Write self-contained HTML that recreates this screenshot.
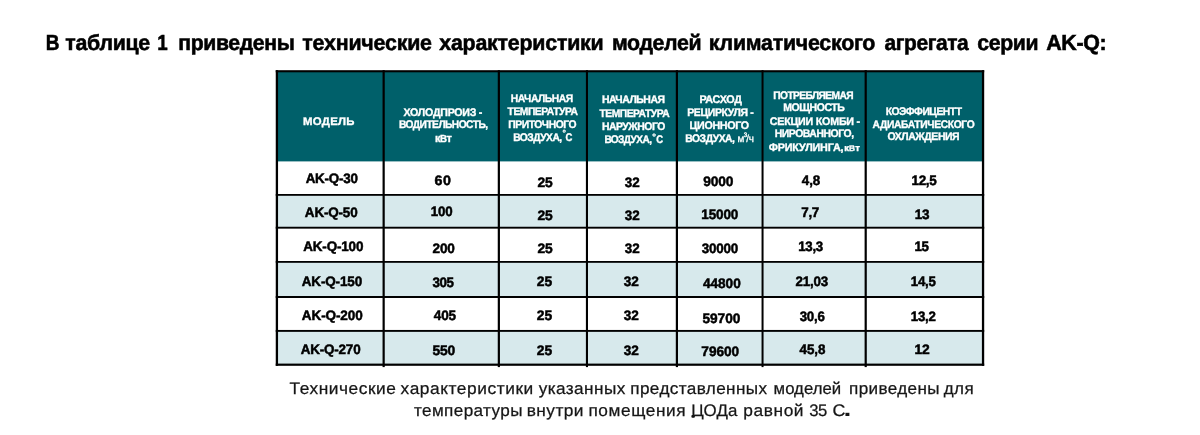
<!DOCTYPE html>
<html lang="ru">
<head>
<meta charset="utf-8">
<title>Таблица 1 — технические характеристики AK-Q</title>
<style>
html,body{margin:0;padding:0;background:#fff}
body{width:1200px;height:435px;position:relative;overflow:hidden}
.t{position:absolute;white-space:nowrap;line-height:1;transform-origin:0 0;display:block;text-rendering:geometricPrecision}
.g{margin:0;padding:0;border:0;font-size:inherit;font-weight:inherit;position:static;display:block}
.title{font-family:'Liberation Sans', sans-serif;font-weight:700;color:#000;-webkit-text-stroke:0.55px #000;}
.head{font-family:'Liberation Sans', sans-serif;font-weight:700;color:#fff;-webkit-text-stroke:0.35px #fff;}
.headsm{font-family:'Liberation Sans', sans-serif;font-weight:700;color:#fff;-webkit-text-stroke:0.35px #fff;}
.deg{font-family:'Liberation Sans', sans-serif;font-weight:700;color:#fff;-webkit-text-stroke:0.25px #fff;}
.m3{font-family:'Liberation Sans', sans-serif;font-weight:400;color:#fff;-webkit-text-stroke:0.3px #fff;}
.data{font-family:'Liberation Sans', sans-serif;font-weight:700;color:#000;-webkit-text-stroke:0.5px #000;}
.dot{font-family:'Liberation Sans', sans-serif;font-weight:700;color:#161616;}
.cap{font-family:'Liberation Sans', sans-serif;font-weight:400;color:#161616;-webkit-text-stroke:0.25px #161616;}
.vb{font-size:88%}sup{font-size:62%;vertical-align:baseline;position:relative;top:-0.8em;line-height:0;margin:0 -0.12em 0 -0.05em}
</style>
</head>
<body>
<!-- table grid -->
<svg class="grid" width="1200" height="435" viewBox="0 0 1200 435" style="position:absolute;left:0;top:0">
<rect x="276.9" y="71.25" width="706.15" height="90.15" fill="#00606a"/>
<rect x="276.9" y="194.9" width="706.15" height="32.80" fill="#d7e9ec"/>
<rect x="276.9" y="261.9" width="706.15" height="35.10" fill="#d7e9ec"/>
<rect x="276.9" y="330.9" width="706.15" height="33.80" fill="#d7e9ec"/>
<rect x="275.75" y="70.20" width="708.45" height="2.1" fill="#000"/>
<rect x="275.75" y="194.00" width="708.45" height="1.8" fill="#000"/>
<rect x="275.75" y="226.75" width="708.45" height="1.9" fill="#000"/>
<rect x="275.75" y="261.00" width="708.45" height="1.8" fill="#000"/>
<rect x="275.75" y="296.00" width="708.45" height="2.0" fill="#000"/>
<rect x="275.75" y="329.95" width="708.45" height="1.9" fill="#000"/>
<rect x="275.75" y="363.60" width="708.45" height="2.2" fill="#000"/>
<rect x="275.75" y="70.2" width="2.3" height="295.60" fill="#000"/>
<rect x="382.55" y="70.2" width="2.2" height="296.90" fill="#000"/>
<rect x="497.75" y="70.2" width="2.2" height="296.90" fill="#000"/>
<rect x="585.90" y="70.2" width="2.1" height="296.90" fill="#000"/>
<rect x="675.80" y="70.2" width="2.2" height="296.90" fill="#000"/>
<rect x="761.55" y="70.2" width="2.0" height="296.90" fill="#000"/>
<rect x="864.60" y="70.2" width="2.2" height="296.90" fill="#000"/>
<rect x="981.90" y="70.2" width="2.3" height="295.60" fill="#000"/>
<rect x="691.4" y="415.0" width="3.5" height="2.8" rx="1" fill="#111"/>
</svg>
<!-- text -->
<h1 class="g ttl">
<span class="t title" style="left:45px;top:32px;font-size:21.80px;transform:translateX(0.75px) scaleX(0.8720)">В</span>
<span class="t title" style="left:65px;top:32px;font-size:21.80px;letter-spacing:-0.287px;transform:translateX(0.26px) scaleX(0.9789)">таблице</span>
<span class="t title" style="left:157px;top:32px;font-size:21.80px;transform:translateX(0.28px) scaleX(0.8600)">1</span>
<span class="t title" style="left:178px;top:32px;font-size:21.80px;letter-spacing:-0.368px;transform:translateX(0.25px) scaleX(0.9722)">приведены</span>
<span class="t title" style="left:302px;top:32px;font-size:21.80px;letter-spacing:-0.202px;transform:translateX(0.31px) scaleX(0.9806)">технические</span>
<span class="t title" style="left:439px;top:32px;font-size:21.80px;letter-spacing:-0.227px;transform:translateX(0.30px) scaleX(0.9804)">характеристики</span>
<span class="t title" style="left:611px;top:32px;font-size:21.80px;letter-spacing:-0.384px;transform:translateX(0.96px) scaleX(0.9779)">моделей</span>
<span class="t title" style="left:708px;top:32px;font-size:21.80px;letter-spacing:-0.248px;transform:translateX(0.85px) scaleX(0.9804)">климатического</span>
<span class="t title" style="left:884px;top:32px;font-size:21.80px;letter-spacing:-0.440px;transform:translateX(0.56px) scaleX(0.9606)">агрегата</span>
<span class="t title" style="left:977px;top:32px;font-size:21.80px;letter-spacing:-0.402px;transform:translateX(0.35px) scaleX(0.9749)">серии</span>
<span class="t title" style="left:1046px;top:32px;font-size:21.80px;letter-spacing:-0.345px;transform:translateX(0.14px) scaleX(0.9836)">AK-Q:</span>
</h1>
<div class="g thead">
<span class="t head" style="left:302px;top:117px;font-size:11.05px;letter-spacing:0.302px;transform:translateX(0.95px) scaleX(1.0298)">МОДЕЛЬ</span>
<span class="t head" style="left:403px;top:108px;font-size:11.05px;letter-spacing:-0.265px;transform:translateX(0.56px) scaleX(0.9621)">ХОЛОДПРОИЗ -</span>
<span class="t head" style="left:398px;top:120px;font-size:11.05px;letter-spacing:-0.557px;transform:translateX(0.96px) scaleX(0.9227)">ВОДИТЕЛЬНОСТЬ,</span>
<span class="t headsm" style="left:435px;top:134px;font-size:11.56px;letter-spacing:-0.518px;transform:translateX(0.05px) scaleX(0.9556)">к<span class="vb">В</span>т</span>
<span class="t head" style="left:510px;top:94px;font-size:11.05px;letter-spacing:-0.492px;transform:translateX(0.87px) scaleX(0.9352)">НАЧАЛЬНАЯ</span>
<span class="t head" style="left:507px;top:107px;font-size:11.05px;letter-spacing:-0.508px;transform:translateX(0.62px) scaleX(0.9322)">ТЕМПЕРАТУРА</span>
<span class="t head" style="left:508px;top:120px;font-size:11.05px;letter-spacing:-0.492px;transform:translateX(0.30px) scaleX(0.9360)">ПРИТОЧНОГО</span>
<span class="t head" style="left:513px;top:133px;font-size:11.05px;letter-spacing:-0.518px;transform:translateX(0.13px) scaleX(0.9268)">ВОЗДУХА,</span>
<span class="t deg" style="left:562px;top:129px;font-size:8.00px;transform:translateX(0.56px) scale(1.0713,1.1209)">°</span>
<span class="t head" style="left:565px;top:133px;font-size:11.05px;transform:translateX(0.56px) scaleX(0.8600)">С</span>
<span class="t head" style="left:601px;top:95px;font-size:11.05px;letter-spacing:-0.484px;transform:translateX(0.92px) scaleX(0.9458)">НАЧАЛЬНАЯ</span>
<span class="t head" style="left:599px;top:109px;font-size:11.05px;letter-spacing:-0.500px;transform:translateX(0.41px) scaleX(0.9319)">ТЕМПЕРАТУРА</span>
<span class="t head" style="left:601px;top:122px;font-size:11.05px;letter-spacing:-0.505px;transform:translateX(0.99px) scaleX(0.9408)">НАРУЖНОГО</span>
<span class="t head" style="left:604px;top:135px;font-size:11.05px;letter-spacing:-0.645px;transform:translateX(0.40px) scaleX(0.9146)">ВОЗДУХА,</span>
<span class="t deg" style="left:652px;top:133px;font-size:8.00px;transform:translateX(0.17px) scale(1.1618,1.1421)">°</span>
<span class="t head" style="left:656px;top:135px;font-size:11.05px;transform:translateX(0.23px) scaleX(0.8600)">С</span>
<span class="t head" style="left:699px;top:95px;font-size:11.05px;letter-spacing:-0.261px;transform:translateX(0.39px) scaleX(0.9734)">РАСХОД</span>
<span class="t head" style="left:687px;top:108px;font-size:11.05px;letter-spacing:-0.361px;transform:translateX(0.14px) scaleX(0.9472)">РЕЦИРКУЛЯ -</span>
<span class="t head" style="left:689px;top:121px;font-size:11.05px;letter-spacing:-0.326px;transform:translateX(0.52px) scaleX(0.9685)">ЦИОННОГО</span>
<span class="t head" style="left:685px;top:134px;font-size:11.05px;letter-spacing:-0.476px;transform:translateX(0.29px) scaleX(0.9339)">ВОЗДУХА,</span>
<span class="t m3" style="left:737px;top:135px;font-size:10.32px;letter-spacing:-0.224px;transform:translateX(0.42px) scaleX(0.9604)">м<sup>3</sup>/ч</span>
<span class="t head" style="left:773px;top:91px;font-size:11.05px;letter-spacing:-0.630px;transform:translateX(0.27px) scaleX(0.9245)">ПОТРЕБЛЯЕМАЯ</span>
<span class="t head" style="left:783px;top:103px;font-size:11.05px;letter-spacing:-0.471px;transform:translateX(0.28px) scaleX(0.9501)">МОЩНОСТЬ</span>
<span class="t head" style="left:769px;top:117px;font-size:11.05px;letter-spacing:-0.235px;transform:translateX(0.77px) scaleX(0.9693)">СЕКЦИИ КОМБИ -</span>
<span class="t head" style="left:774px;top:129px;font-size:11.05px;letter-spacing:-0.470px;transform:translateX(0.68px) scaleX(0.9419)">НИРОВАННОГО,</span>
<span class="t head" style="left:768px;top:143px;font-size:11.05px;letter-spacing:-0.189px;transform:translateX(0.75px) scaleX(0.9770)">ФРИКУЛИНГА,</span>
<span class="t headsm" style="left:844px;top:144px;font-size:9.30px;letter-spacing:0.083px;transform:translateX(0.23px) scaleX(1.0188)">к<span class="vb">В</span>т</span>
<span class="t head" style="left:885px;top:107px;font-size:11.05px;letter-spacing:-0.510px;transform:translateX(0.70px) scaleX(0.9364)">КОЭФФИЦЕНТТ</span>
<span class="t head" style="left:872px;top:120px;font-size:11.05px;letter-spacing:-0.364px;transform:translateX(0.56px) scaleX(0.9290)">АДИАБАТИЧЕСКОГО</span>
<span class="t head" style="left:887px;top:132px;font-size:11.05px;letter-spacing:-0.467px;transform:translateX(0.53px) scaleX(0.9462)">ОХЛАЖДЕНИЯ</span>
</div>
<div class="g tr r1">
<span class="t data" style="left:305px;top:172px;font-size:13.74px;letter-spacing:-0.192px;transform:translateX(0.63px) scaleX(0.9746)">AK-Q-30</span>
<span class="t data" style="left:434px;top:174px;font-size:13.74px;letter-spacing:0.552px;transform:translateX(0.61px) scaleX(1.0371)">60</span>
<span class="t data" style="left:537px;top:176px;font-size:13.74px;letter-spacing:0.030px;transform:translateX(0.40px) scaleX(1.0065)">25</span>
<span class="t data" style="left:624px;top:176px;font-size:13.74px;letter-spacing:-0.081px;transform:translateX(0.74px) scaleX(0.9777)">32</span>
<span class="t data" style="left:703px;top:175px;font-size:13.74px;letter-spacing:-0.123px;transform:translateX(0.15px) scaleX(1.0006)">9000</span>
<span class="t data" style="left:801px;top:174px;font-size:13.74px;letter-spacing:-0.155px;transform:translateX(0.87px) scaleX(0.9757)">4,8</span>
<span class="t data" style="left:911px;top:174px;font-size:13.74px;letter-spacing:-0.291px;transform:translateX(0.43px) scaleX(0.9823)">12,5</span>
</div>
<div class="g tr r2">
<span class="t data" style="left:304px;top:206px;font-size:13.74px;letter-spacing:-0.184px;transform:translateX(0.87px) scaleX(0.9804)">AK-Q-50</span>
<span class="t data" style="left:430px;top:205px;font-size:13.74px;letter-spacing:-0.148px;transform:translateX(0.66px) scaleX(0.9681)">100</span>
<span class="t data" style="left:537px;top:209px;font-size:13.74px;letter-spacing:0.029px;transform:translateX(0.40px) scaleX(1.0065)">25</span>
<span class="t data" style="left:624px;top:209px;font-size:13.74px;letter-spacing:-0.081px;transform:translateX(0.74px) scaleX(0.9772)">32</span>
<span class="t data" style="left:701px;top:208px;font-size:13.74px;letter-spacing:-0.155px;transform:translateX(0.30px) scaleX(0.9834)">15000</span>
<span class="t data" style="left:801px;top:206px;font-size:13.74px;letter-spacing:-0.290px;transform:translateX(0.25px) scaleX(0.9755)">7,7</span>
<span class="t data" style="left:914px;top:208px;font-size:13.74px;letter-spacing:-0.180px;transform:translateX(0.68px) scaleX(0.9847)">13</span>
</div>
<div class="g tr r3">
<span class="t data" style="left:303px;top:240px;font-size:13.74px;letter-spacing:-0.164px;transform:translateX(0.21px) scaleX(0.9792)">AK-Q-100</span>
<span class="t data" style="left:432px;top:242px;font-size:13.74px;letter-spacing:-0.230px;transform:translateX(0.59px) scaleX(0.9886)">200</span>
<span class="t data" style="left:537px;top:242px;font-size:13.74px;letter-spacing:0.030px;transform:translateX(0.40px) scaleX(1.0065)">25</span>
<span class="t data" style="left:624px;top:242px;font-size:13.74px;letter-spacing:-0.081px;transform:translateX(0.74px) scaleX(0.9777)">32</span>
<span class="t data" style="left:701px;top:242px;font-size:13.74px;letter-spacing:-0.171px;transform:translateX(0.74px) scaleX(0.9751)">30000</span>
<span class="t data" style="left:798px;top:240px;font-size:13.74px;letter-spacing:-0.343px;transform:translateX(0.31px) scaleX(0.9679)">13,3</span>
<span class="t data" style="left:914px;top:240px;font-size:13.74px;letter-spacing:-0.577px;transform:translateX(0.54px) scaleX(0.9735)">15</span>
</div>
<div class="g tr r4">
<span class="t data" style="left:301px;top:275px;font-size:13.74px;letter-spacing:-0.157px;transform:translateX(0.75px) scaleX(0.9823)">AK-Q-150</span>
<span class="t data" style="left:432px;top:276px;font-size:13.74px;letter-spacing:-0.419px;transform:translateX(0.47px) scaleX(0.9737)">305</span>
<span class="t data" style="left:536px;top:275px;font-size:13.74px;letter-spacing:-0.037px;transform:translateX(0.87px) scaleX(1.0112)">25</span>
<span class="t data" style="left:623px;top:275px;font-size:13.74px;letter-spacing:-0.081px;transform:translateX(0.72px) scaleX(0.9888)">32</span>
<span class="t data" style="left:702px;top:277px;font-size:13.74px;letter-spacing:-0.020px;transform:translateX(0.93px) scaleX(0.9912)">44800</span>
<span class="t data" style="left:795px;top:275px;font-size:13.74px;letter-spacing:-0.207px;transform:translateX(0.40px) scaleX(0.9741)">21,03</span>
<span class="t data" style="left:910px;top:275px;font-size:13.74px;letter-spacing:-0.212px;transform:translateX(0.73px) scaleX(0.9687)">14,5</span>
</div>
<div class="g tr r5">
<span class="t data" style="left:301px;top:309px;font-size:13.74px;letter-spacing:-0.121px;transform:translateX(0.82px) scaleX(0.9856)">AK-Q-200</span>
<span class="t data" style="left:433px;top:309px;font-size:13.74px;letter-spacing:-0.167px;transform:translateX(0.82px) scaleX(0.9879)">405</span>
<span class="t data" style="left:536px;top:309px;font-size:13.74px;letter-spacing:-0.036px;transform:translateX(0.87px) scaleX(1.0114)">25</span>
<span class="t data" style="left:623px;top:309px;font-size:13.74px;letter-spacing:-0.081px;transform:translateX(0.71px) scaleX(0.9886)">32</span>
<span class="t data" style="left:702px;top:312px;font-size:13.74px;letter-spacing:-0.053px;transform:translateX(0.50px) scaleX(0.9960)">59700</span>
<span class="t data" style="left:799px;top:310px;font-size:13.74px;letter-spacing:-0.216px;transform:translateX(0.64px) scaleX(0.9654)">30,6</span>
<span class="t data" style="left:910px;top:310px;font-size:13.74px;letter-spacing:-0.210px;transform:translateX(0.72px) scaleX(0.9678)">13,2</span>
</div>
<div class="g tr r6">
<span class="t data" style="left:300px;top:343px;font-size:13.74px;letter-spacing:-0.175px;transform:translateX(0.65px) scaleX(0.9776)">AK-Q-270</span>
<span class="t data" style="left:432px;top:344px;font-size:13.74px;letter-spacing:-0.197px;transform:translateX(0.40px) scaleX(1.0077)">550</span>
<span class="t data" style="left:536px;top:344px;font-size:13.74px;letter-spacing:-0.037px;transform:translateX(0.87px) scaleX(1.0112)">25</span>
<span class="t data" style="left:623px;top:344px;font-size:13.74px;letter-spacing:-0.081px;transform:translateX(0.72px) scaleX(0.9888)">32</span>
<span class="t data" style="left:701px;top:345px;font-size:13.74px;letter-spacing:-0.073px;transform:translateX(0.37px) scaleX(0.9948)">79600</span>
<span class="t data" style="left:799px;top:343px;font-size:13.74px;letter-spacing:-0.111px;transform:translateX(0.59px) scaleX(0.9753)">45,8</span>
<span class="t data" style="left:914px;top:343px;font-size:13.74px;letter-spacing:-0.197px;transform:translateX(0.55px) scaleX(1.0092)">12</span>
</div>
<p class="g note">
<span class="t cap" style="left:289px;top:381px;font-size:16.72px;letter-spacing:0.538px;transform:translateX(0.57px) scaleX(1.0355)">Технические</span>
<span class="t cap" style="left:400px;top:381px;font-size:16.72px;letter-spacing:0.549px;transform:translateX(0.60px) scaleX(1.0366)">характеристики</span>
<span class="t cap" style="left:538px;top:381px;font-size:16.72px;letter-spacing:0.410px;transform:translateX(0.71px) scaleX(1.0284)">указанных</span>
<span class="t cap" style="left:630px;top:381px;font-size:16.72px;letter-spacing:0.382px;transform:translateX(0.26px) scaleX(1.0257)">представленных</span>
<span class="t cap" style="left:773px;top:381px;font-size:16.72px;letter-spacing:0.014px;transform:translateX(0.62px) scaleX(1.0034)">моделей</span>
<span class="t cap" style="left:849px;top:381px;font-size:16.72px;letter-spacing:0.354px;transform:translateX(0.10px) scaleX(1.0227)">приведены</span>
<span class="t cap" style="left:943px;top:381px;font-size:16.72px;letter-spacing:0.373px;transform:translateX(0.77px) scaleX(1.0187)">для</span>
<span class="t cap" style="left:414px;top:403px;font-size:16.72px;letter-spacing:0.380px;transform:translateX(0.04px) scaleX(1.0238)">температуры</span>
<span class="t cap" style="left:526px;top:403px;font-size:16.72px;letter-spacing:0.400px;transform:translateX(0.74px) scaleX(1.0364)">внутри</span>
<span class="t cap" style="left:588px;top:403px;font-size:16.72px;letter-spacing:0.584px;transform:translateX(0.41px) scaleX(1.0324)">помещения</span>
<span class="t cap" style="left:691px;top:403px;font-size:16.72px;letter-spacing:0.156px;transform:translateX(0.31px) scaleX(1.0106)">ЦОДа</span>
<span class="t cap" style="left:743px;top:403px;font-size:16.72px;letter-spacing:0.603px;transform:translateX(0.13px) scaleX(1.0360)">равной</span>
<span class="t cap" style="left:809px;top:403px;font-size:16.72px;letter-spacing:-0.418px;transform:translateX(0.15px) scaleX(0.9961)">35</span>
<span class="t cap" style="left:832px;top:403px;font-size:16.72px;transform:translateX(0.39px) scaleX(1.0679)">С</span>
<span class="t dot" style="left:843px;top:398px;font-size:18.00px;transform:translateX(0.59px) scale(1.5684,1.1968)">.</span>
</p>
</body>
</html>
